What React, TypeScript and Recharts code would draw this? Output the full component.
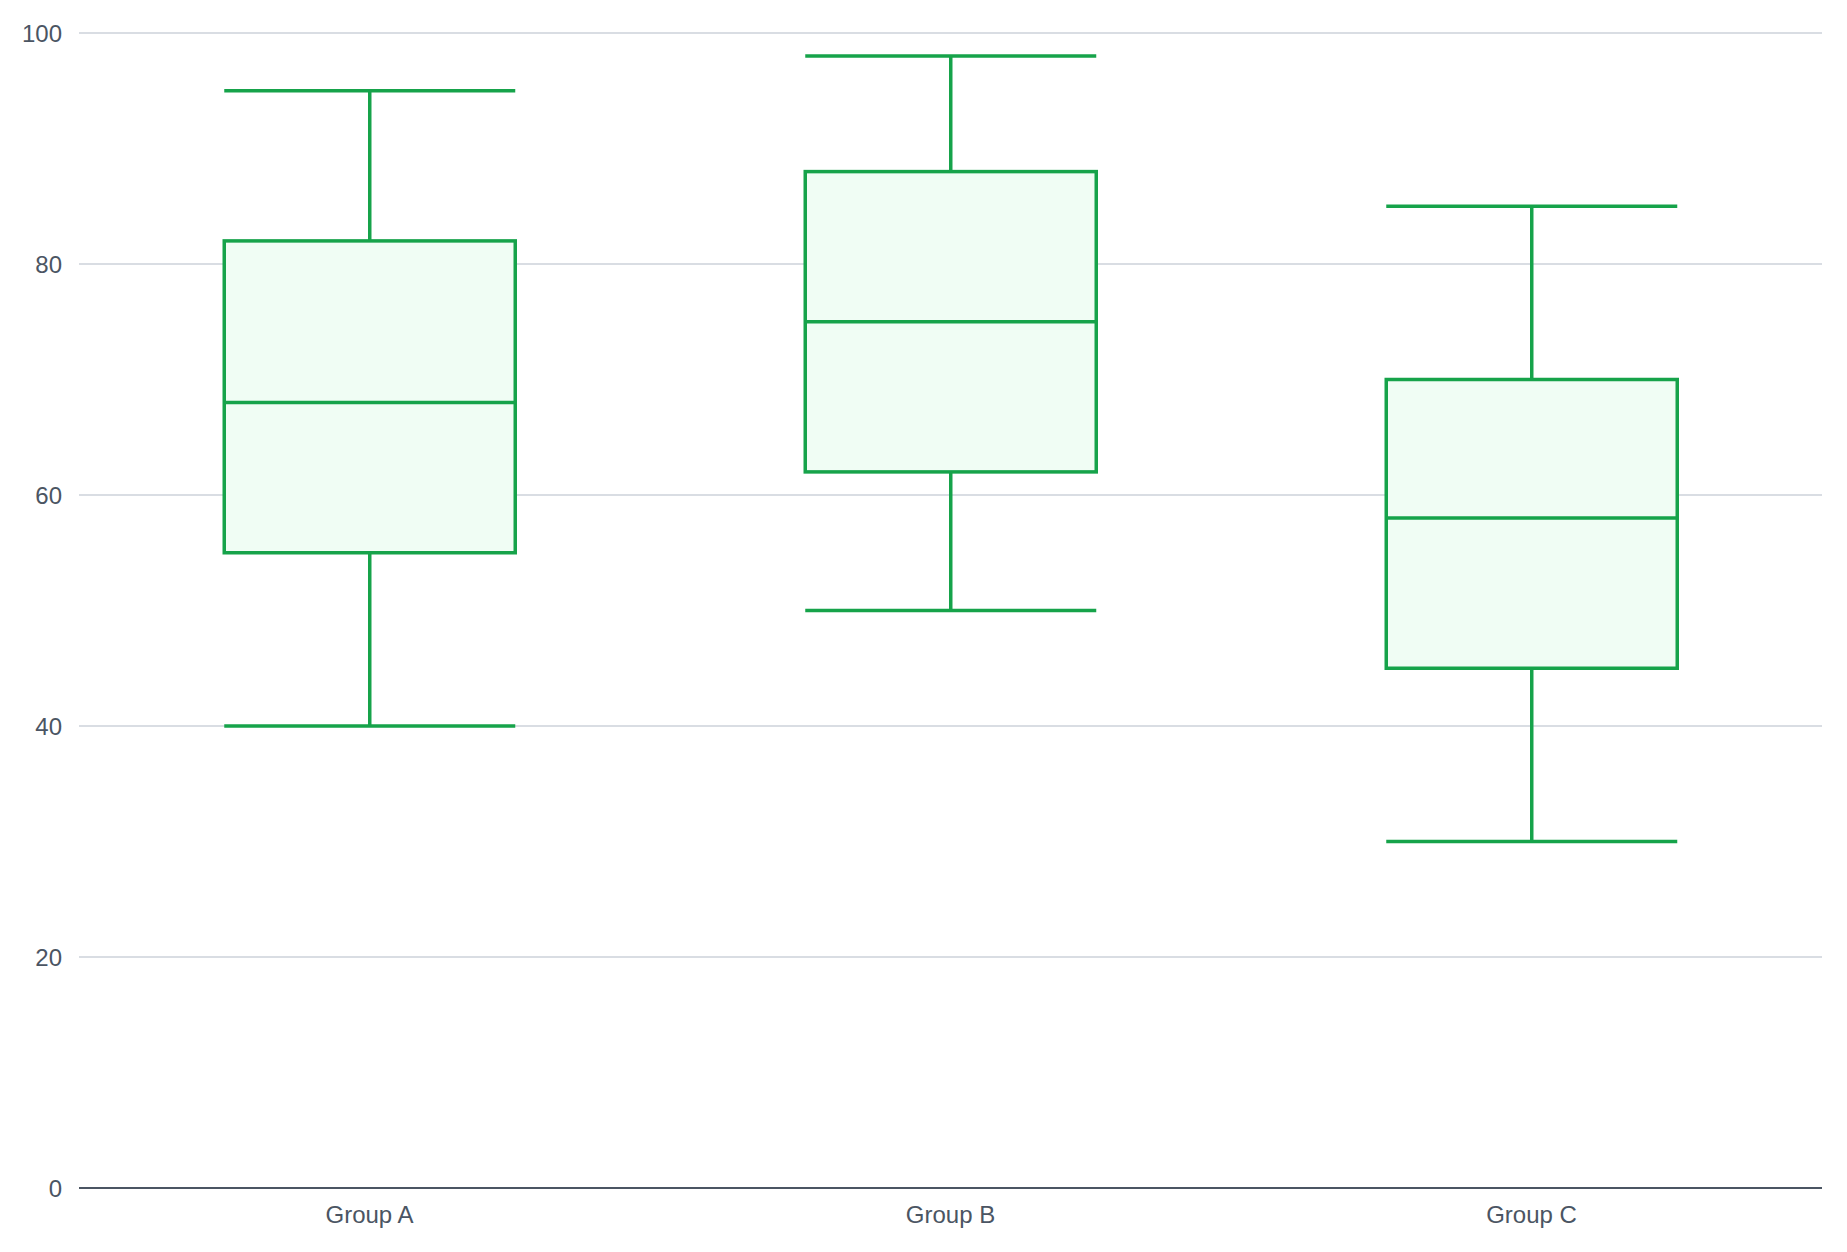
import React from 'react';
import { ComposedChart, Bar, XAxis, YAxis, CartesianGrid } from 'recharts';

const categories = ['Group A', 'Group B', 'Group C'];
const mins = [40, 50, 30];
const q1s = [55, 62, 45];
const medians = [68, 75, 58];
const q3s = [82, 88, 70];
const maxs = [95, 98, 85];
const yTicks = [0, 20, 40, 60, 80, 100];

const data = categories.map((name, i) => ({
  name,
  range: [mins[i], maxs[i]],
  min: mins[i],
  q1: q1s[i],
  median: medians[i],
  q3: q3s[i],
  max: maxs[i],
}));

const STROKE = '#16a34a';
const FILL = '#f0fdf4';
const SW = 3.5;

const BoxShape = (props: any) => {
  const { x, y, width, height, payload } = props;
  if (x == null || y == null || !payload) return null;
  const top = Math.min(y, y + height);
  const h = Math.abs(height);
  const { min, max, q1, median, q3 } = payload;
  const k = h / (max - min);
  const yOf = (v: number) => top + (max - v) * k;
  const cx = x + width / 2;
  const yMax = yOf(max);
  const yMin = yOf(min);
  const yQ1 = yOf(q1);
  const yQ3 = yOf(q3);
  const yMed = yOf(median);
  return (
    <g>
      <line x1={cx} x2={cx} y1={yMax} y2={yQ3} stroke={STROKE} strokeWidth={SW} />
      <line x1={cx} x2={cx} y1={yQ1} y2={yMin} stroke={STROKE} strokeWidth={SW} />
      <line x1={x} x2={x + width} y1={yMax} y2={yMax} stroke={STROKE} strokeWidth={SW} />
      <line x1={x} x2={x + width} y1={yMin} y2={yMin} stroke={STROKE} strokeWidth={SW} />
      <rect x={x} y={yQ3} width={width} height={yQ1 - yQ3} fill={FILL} stroke={STROKE} strokeWidth={SW} />
      <line x1={x} x2={x + width} y1={yMed} y2={yMed} stroke={STROKE} strokeWidth={SW} />
    </g>
  );
};

export default function App() {
  const tickStyle = { fill: '#4b5563', fontSize: 24, fontFamily: '"Liberation Sans", Arial, Helvetica, sans-serif' };
  return (
    <div style={{ width: 1831, height: 1236 }}>
      <ComposedChart
        width={1831}
        height={1236}
        data={data}
        margin={{ top: 25, right: 17, bottom: 16, left: 0 }}
        barCategoryGap="25%"
      >
        <CartesianGrid vertical={false} stroke="#d9dde3" strokeWidth={2} />
        <XAxis
          dataKey="name"
          tickLine={false}
          axisLine={{ stroke: '#4b5563', strokeWidth: 2 }}
          tick={tickStyle}
          tickMargin={12}
          height={40}
        />
        <YAxis
          domain={[0, 100]}
          ticks={yTicks}
          tickLine={false}
          axisLine={false}
          tick={tickStyle}
          tickMargin={11}
          width={71}
        />
        <Bar dataKey="range" shape={BoxShape} isAnimationActive={false} />
      </ComposedChart>
    </div>
  );
}
